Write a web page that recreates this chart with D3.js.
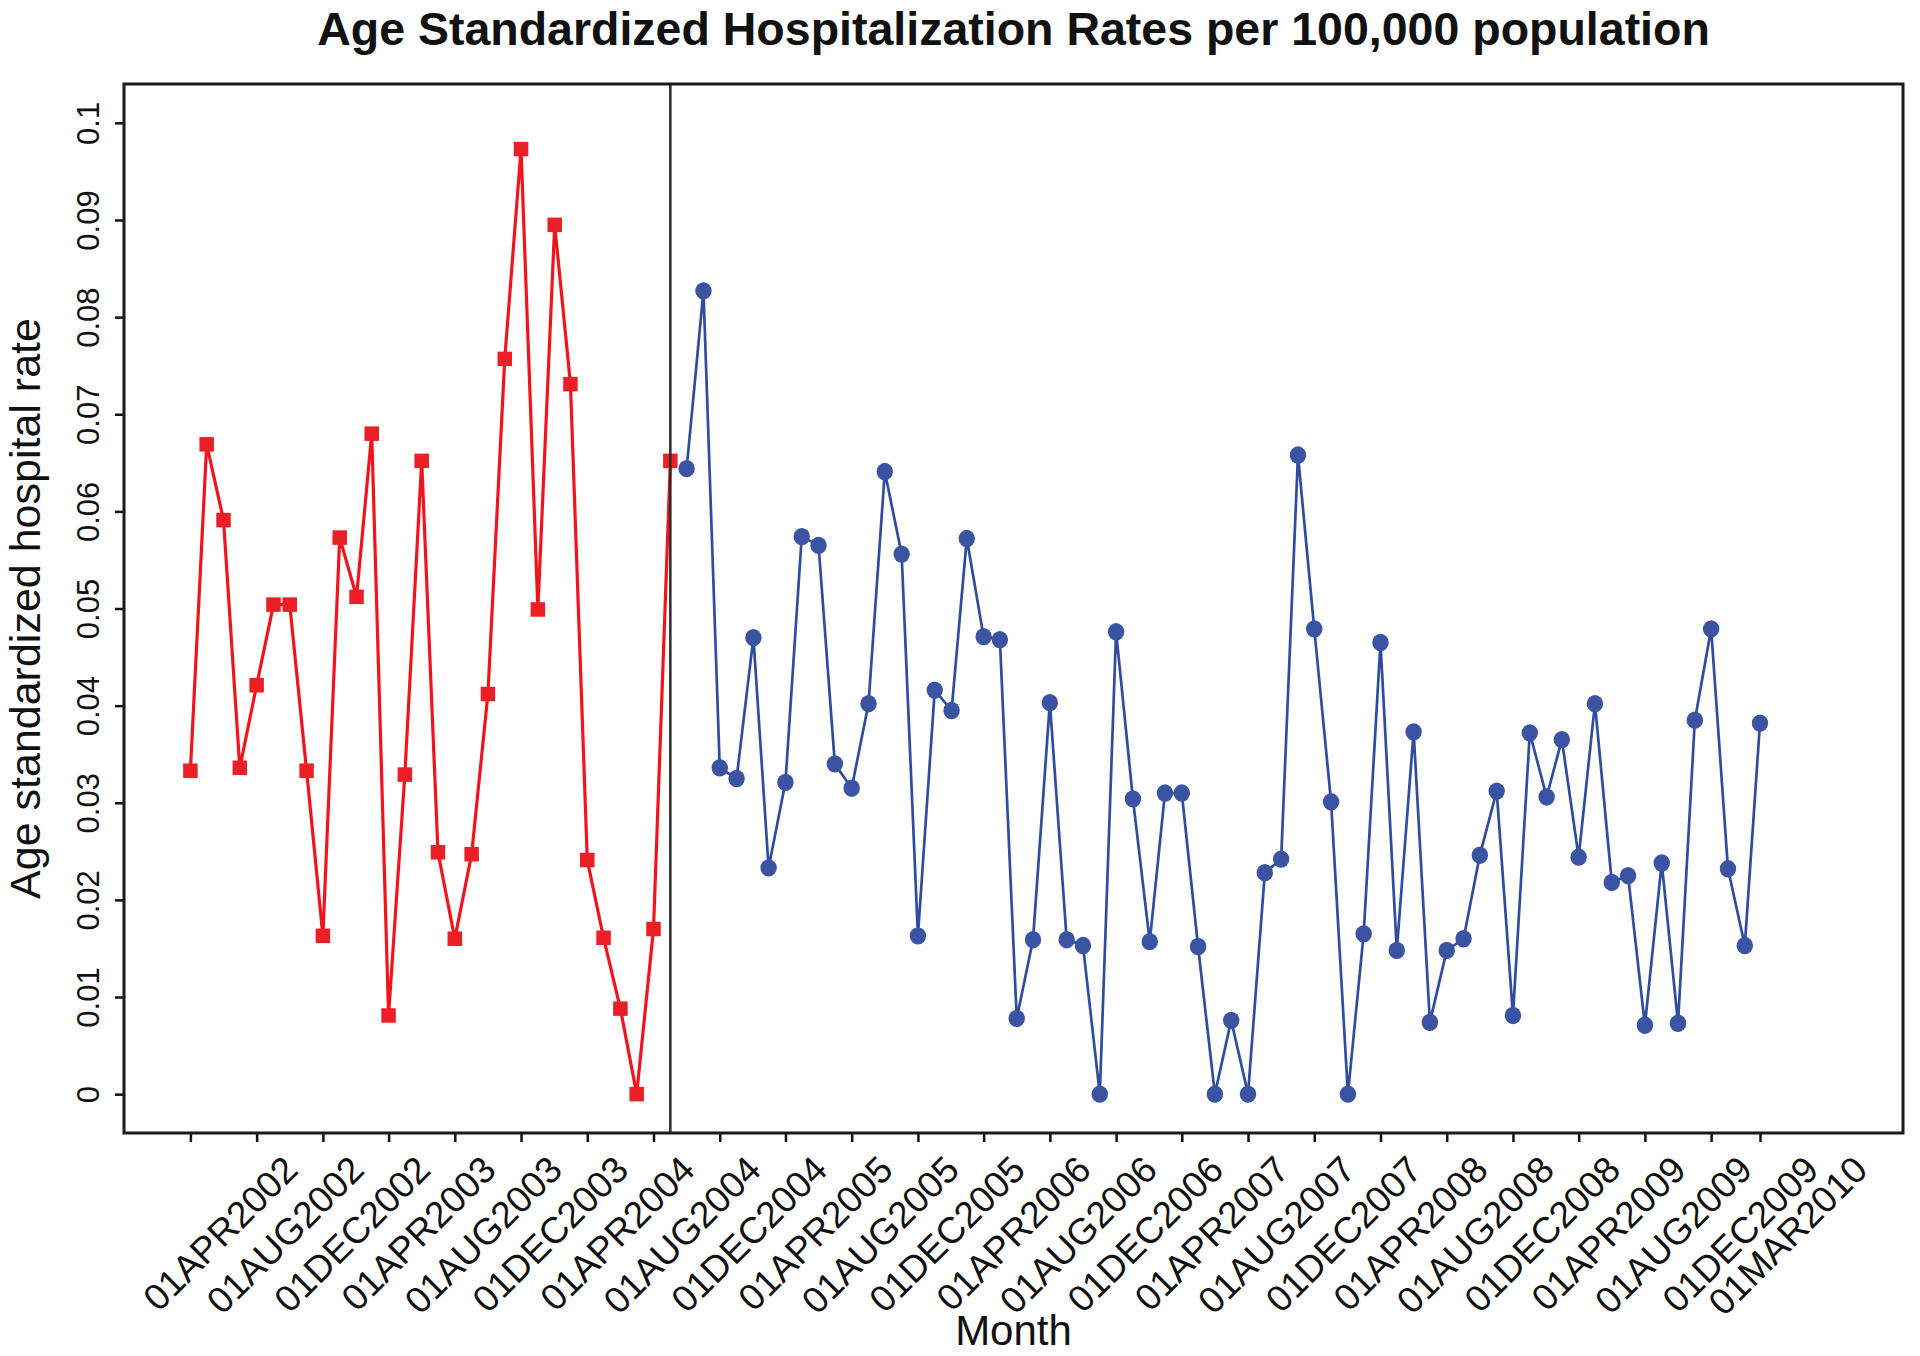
<!DOCTYPE html>
<html><head><meta charset="utf-8">
<script src="https://cdn.jsdelivr.net/npm/d3@7"></script>
<style>body{margin:0;background:#fff;overflow:hidden} svg{display:block}</style>
</head><body>
<script>
const chartTitle = "Age Standardized Hospitalization Rates per 100,000 population";
const yTitle = "Age standardized hospital rate";
const xTitle = "Month";
const firstMonth = "01APR2002";
// Apr 2002 - Sep 2004
const redValues = [0.0333,0.0669,0.0591,0.0336,0.0421,0.0504,0.0504,0.0333,0.0163,
  0.0573,0.0512,0.0680,0.0081,0.0329,0.0652,0.0249,0.0160,0.0247,0.0412,0.0757,0.0973,
  0.0499,0.0895,0.0731,0.0241,0.0161,0.0088,0.0,0.0170,0.0652];
// Oct 2004 - Mar 2010
const blueValues = [0.0644,0.0827,0.0336,
  0.0325,0.0470,0.0233,0.0321,0.0574,0.0565,0.0340,0.0315,0.0402,0.0641,0.0556,0.0163,
  0.0416,0.0395,0.0572,0.0471,0.0468,0.0078,0.0159,0.0403,0.0159,0.0153,0.0,0.0476,
  0.0304,0.0157,0.0310,0.0310,0.0152,0.0,0.0076,0.0,0.0228,0.0242,0.0658,0.0479,
  0.0301,0.0,0.0165,0.0465,0.0148,0.0373,0.0074,0.0148,0.0160,0.0246,0.0312,0.0081,
  0.0372,0.0306,0.0365,0.0244,0.0402,0.0218,0.0225,0.0071,0.0238,0.0073,0.0385,0.0479,
  0.0232,0.0153,0.0382];
const tickLabels = ["01APR2002","01AUG2002","01DEC2002","01APR2003","01AUG2003","01DEC2003",
  "01APR2004","01AUG2004","01DEC2004","01APR2005","01AUG2005","01DEC2005","01APR2006",
  "01AUG2006","01DEC2006","01APR2007","01AUG2007","01DEC2007","01APR2008","01AUG2008",
  "01DEC2008","01APR2009","01AUG2009","01DEC2009","01MAR2010"];
const yTickValues = [0,0.01,0.02,0.03,0.04,0.05,0.06,0.07,0.08,0.09,0.1];

const W = 1920, H = 1356;
const box = {left:124, right:1903, top:84, bottom:1133};
const font = "'Liberation Sans', Arial, Helvetica, sans-serif";
const parse = d3.utcParse("%d%b%Y");

const start = parse(firstMonth);
const allMonths = d3.utcMonth.range(start, d3.utcMonth.offset(start, redValues.length + blueValues.length));
const red = redValues.map((v,i)=>({date: allMonths[i], v}));
const blue = blueValues.map((v,i)=>({date: allMonths[redValues.length + i], v}));
const tickDates = tickLabels.map(parse);

const x = d3.scaleUtc().domain([tickDates[0], tickDates[tickDates.length-1]]).range([190.4, 1760]);
const y = d3.scaleLinear().domain([-0.004, 0.104]).range([box.bottom, box.top]);

const svg = d3.select("body").append("svg").attr("width", W).attr("height", H)
  .style("font-family", font);

// title
svg.append("text").attr("x", (box.left+box.right)/2).attr("y", 45)
  .attr("text-anchor","middle").attr("font-weight","bold").attr("font-size", 46.5)
  .attr("fill","#111").text(chartTitle);

// y axis
const yAxis = svg.append("g").attr("transform", `translate(${box.left},0)`)
  .call(d3.axisLeft(y).tickValues(yTickValues).tickSize(9).tickFormat(d => d===0 ? "0" : String(+d.toFixed(2))));
yAxis.select(".domain").remove();
yAxis.selectAll(".tick line").attr("stroke","#111").attr("stroke-width",2.5);
yAxis.selectAll(".tick text").attr("font-size",31).attr("fill","#111").attr("font-family",font)
  .attr("text-anchor","middle").attr("x",0).attr("dy",0)
  .attr("transform", `translate(${99-box.left},0) rotate(-90)`);

// x axis
const xAxis = svg.append("g").attr("transform", `translate(0,${box.bottom})`)
  .call(d3.axisBottom(x).tickValues(tickDates).tickSize(9).tickFormat((d,i)=>tickLabels[i]));
xAxis.select(".domain").remove();
xAxis.selectAll(".tick line").attr("stroke","#111").attr("stroke-width",2.5);
xAxis.selectAll(".tick text").attr("font-size",37).attr("fill","#111").attr("font-family",font)
  .attr("text-anchor","end").attr("y",0).attr("dy",0)
  .attr("transform", `translate(109,${1172-box.bottom}) rotate(-45)`);

// axis titles
svg.append("text").attr("transform", `translate(40,${(box.top+box.bottom)/2}) rotate(-90)`)
  .attr("text-anchor","middle").attr("font-size",43).attr("fill","#111").text(yTitle);
svg.append("text").attr("x", (box.left+box.right)/2).attr("y", 1345)
  .attr("text-anchor","middle").attr("font-size",42).attr("fill","#111").text(xTitle);

// lines
const line = d3.line().x(d=>x(d.date)).y(d=>y(d.v));
svg.append("path").datum(red).attr("d", line).attr("fill","none")
  .attr("stroke","#f2141c").attr("stroke-width",3.2).attr("stroke-linejoin","round");
svg.append("path").datum(blue).attr("d", line).attr("fill","none")
  .attr("stroke","#2f4c9f").attr("stroke-width",2.7).attr("stroke-linejoin","round");

// markers
const sq = 14.5;
svg.append("g").selectAll("rect").data(red).join("rect")
  .attr("x", d=>x(d.date)-sq/2).attr("y", d=>y(d.v)-sq/2)
  .attr("width", sq).attr("height", sq).attr("fill","#ec1f26");
svg.append("g").selectAll("ellipse").data(blue).join("ellipse")
  .attr("cx", d=>x(d.date)).attr("cy", d=>y(d.v)).attr("rx", 8.2).attr("ry", 8.7)
  .attr("fill","#3a53a3");

// divider at last red month
const divX = x(red[red.length-1].date);
svg.append("line").attr("x1", divX).attr("x2", divX).attr("y1", box.top).attr("y2", box.bottom)
  .attr("stroke","#2a2a2a").attr("stroke-width",2.5);

// frame
svg.append("rect").attr("x", box.left).attr("y", box.top)
  .attr("width", box.right-box.left).attr("height", box.bottom-box.top)
  .attr("fill","none").attr("stroke","#1a1a1a").attr("stroke-width",3);
</script>
</body></html>
